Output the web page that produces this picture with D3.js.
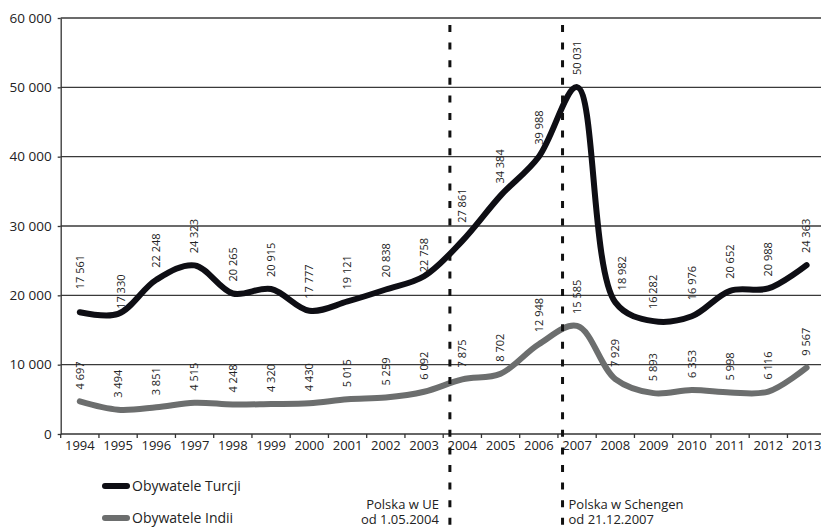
<!DOCTYPE html>
<html><head><meta charset="utf-8">
<script src="https://cdn.jsdelivr.net/npm/d3@7"></script>
<style>
html,body{margin:0;padding:0;background:#fff;}
svg{display:block;font-family:"Open Sans",sans-serif;}
</style></head>
<body>
<svg id="chart" width="821" height="527"></svg>
<script>
const years = [1994,1995,1996,1997,1998,1999,2000,2001,2002,2003,2004,2005,2006,2007,2008,2009,2010,2011,2012,2013];
const turcja = [17561,17330,22248,24323,20265,20915,17777,19121,20838,22758,27861,34384,39988,50031,18982,16282,16976,20652,20988,24363];
const indie = [4697,3494,3851,4515,4248,4320,4430,5015,5259,6092,7875,8702,12948,15585,7929,5893,6353,5998,6116,9567];
const yTicks = [0,10000,20000,30000,40000,50000,60000];
const seriesNames = ["Obywatele Turcji","Obywatele Indii"];
const eventYears = [2004,2007];
const eventLabels = [["Polska w UE","od 1.05.2004"],["Polska w Schengen","od 21.12.2007"]];
// small manual label nudges for a few Turkish labels (as in original)
const turcjaLabelLift = [11,-7,0,0,0,0,0,0,0,-8,6,0,0,0,0,0,4,0,0,0];
const turcjaLabelShift = [0,3,0,0,0,0,0,0,0,0,0,0,0,0,7,0,0,0,0,0];

const svg = d3.select("#chart");
const left = 60.7, bw = 38.25;
const x = d3.scaleBand().domain(years).range([left, left + bw*years.length]).padding(0);
const y = d3.scaleLinear().domain([0,60000]).range([434,18]);
const cx = d => x(d) + x.bandwidth()/2;
const loc = d3.formatLocale({decimal:",",thousands:" ",grouping:[3],currency:["",""]});
const fmt = loc.format(",");

// gridlines
svg.append("g").selectAll("line").data(yTicks.filter(t=>t>0)).join("line")
  .attr("x1", left).attr("x2", 821).attr("y1", d=>y(d)).attr("y2", d=>y(d))
  .attr("stroke","#3a3a3a").attr("stroke-width",1.3);

// y axis
const ya = svg.append("g").attr("transform",`translate(${left},0)`)
  .call(d3.axisLeft(y).tickValues(yTicks).tickFormat(fmt).tickSizeInner(3).tickSizeOuter(0).tickPadding(6));
ya.select(".domain").attr("stroke","#333").attr("stroke-width",1.3);
ya.selectAll(".tick line").attr("stroke","#333").attr("stroke-width",1.3);
ya.selectAll("text").attr("font-family","Open Sans").attr("font-size",13.5).attr("fill","#222");

// x axis
svg.append("line").attr("x1",left).attr("x2",821).attr("y1",y(0)).attr("y2",y(0))
  .attr("stroke","#333").attr("stroke-width",1.3);
svg.append("g").selectAll("line").data(years).join("line")
  .attr("x1",d=>x(d)).attr("x2",d=>x(d)).attr("y1",y(0)).attr("y2",y(0)+4)
  .attr("stroke","#333").attr("stroke-width",1.3);
svg.append("g").selectAll("text").data(years).join("text")
  .attr("x",d=>cx(d)).attr("y",450).attr("text-anchor","middle")
  .attr("font-size",13).attr("fill","#222").text(d=>d);

// lines
const line = d3.line().x((d,i)=>cx(years[i])).y(d=>y(d)).curve(d3.curveCatmullRom.alpha(0.5));
svg.append("path").datum(indie).attr("d",line).attr("fill","none")
  .attr("stroke","#6c6e6e").attr("stroke-width",6).attr("stroke-linecap","round").attr("stroke-linejoin","round");
svg.append("path").datum(turcja).attr("d",line).attr("fill","none")
  .attr("stroke","#0e0e14").attr("stroke-width",6).attr("stroke-linecap","round").attr("stroke-linejoin","round");

// event dashed lines
const evOff = [0.175, 0.12];
eventYears.forEach((yr,i)=>{
  const ex = x(yr) + evOff[i]*bw;
  svg.append("line").attr("x1",ex).attr("x2",ex).attr("y1",25).attr("y2",527)
    .attr("stroke","#111").attr("stroke-width",3).attr("stroke-dasharray","7,10.6");
  const g = svg.append("g");
  eventLabels[i].forEach((t,j)=>{
    g.append("text").attr("x", i===0 ? ex-11 : ex+6).attr("y",509+j*14.5)
      .attr("text-anchor", i===0 ? "end" : "start").attr("font-size",13).attr("fill","#222").text(t);
  });
});

// data labels
function labels(vals, lift, shift){
  svg.append("g").selectAll("text").data(vals).join("text")
    .attr("transform",(d,i)=>`translate(${cx(years[i])+(shift?shift[i]:0)},${y(d)-12-(lift?lift[i]:0)}) rotate(-90)`)
    .attr("dy","0.35em").attr("text-anchor","start").attr("font-size",11).attr("fill","#222")
    .text(d=>fmt(d));
}
labels(turcja, turcjaLabelLift, turcjaLabelShift);
labels(indie, null, null);

// legend
const legColors = ["#0e0e14","#6c6e6e"];
seriesNames.forEach((n,i)=>{
  const ly = 486 + i*32;
  svg.append("line").attr("x1",105).attr("x2",127).attr("y1",ly).attr("y2",ly)
    .attr("stroke",legColors[i]).attr("stroke-width",6).attr("stroke-linecap","round");
  svg.append("text").attr("x",132).attr("y",ly+5).attr("font-size",14).attr("fill","#222").text(n);
});
</script>
</body></html>
